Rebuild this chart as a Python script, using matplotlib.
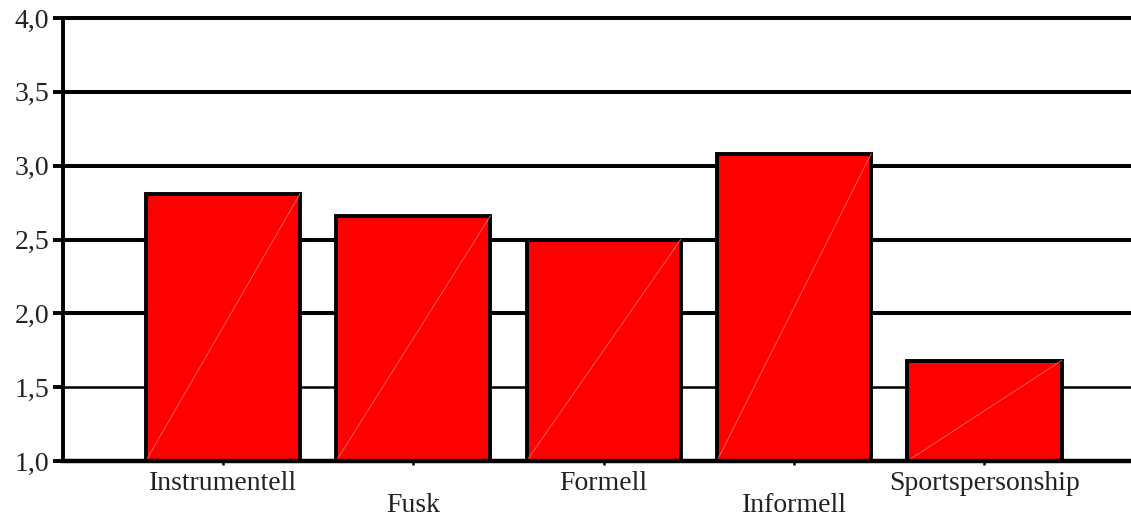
import matplotlib.pyplot as plt
import matplotlib.ticker as mticker

# data
categories = ['Instrumentell', 'Fusk', 'Formell', 'Informell', 'Sportspersonship']
values = [2.81, 2.66, 2.50, 3.08, 1.68]
y_ticks = [1.0, 1.5, 2.0, 2.5, 3.0, 3.5, 4.0]

plt.rcParams['font.family'] = ['Liberation Serif', 'DejaVu Serif']

fig = plt.figure(figsize=(11.31, 5.16), dpi=100)
ax = fig.add_axes([0.0557, 0.1066, 0.9443, 0.8585])

x = list(range(len(categories)))
width = 0.81

# gridlines (1,5 a bit thinner)
for yv in y_ticks[1:]:
    lw = 1.8 if yv == 1.5 else 2.9
    ax.axhline(yv, color='black', lw=lw, zorder=1, clip_on=False)

bars = ax.bar(x, [v - 1.0 for v in values], bottom=1.0, width=width,
              color='#ff0000', edgecolor='black', linewidth=2.8, zorder=2)

# faint diagonal inside each bar
for xi, v in zip(x, values):
    ax.plot([xi - width / 2, xi + width / 2], [1.0, v], color='#ff6a6a',
            lw=0.6, zorder=3)

ax.set_ylim(1.0, 4.0)
ax.set_xlim(-0.84, 4.77)
ax.set_yticks(y_ticks)
ax.yaxis.set_major_formatter(mticker.FuncFormatter(lambda v, p: f'{v:.1f}'.replace('.', ',')))

labels = [c if i % 2 == 0 else '\n' + c for i, c in enumerate(categories)]
ax.set_xticks(x)
ax.set_xticklabels(labels, linespacing=0.85)

ax.tick_params(axis='y', length=7, width=2.8, pad=3, labelsize=20, labelcolor='#222222')
ax.tick_params(axis='x', length=3, width=1.8, pad=4, labelsize=20, labelcolor='#222222')

for s in ['top', 'right']:
    ax.spines[s].set_visible(False)
ax.spines['left'].set_linewidth(2.8)
ax.spines['bottom'].set_linewidth(3.2)
ax.spines['bottom'].set_zorder(4)

fig.savefig('out.png', dpi=100)
